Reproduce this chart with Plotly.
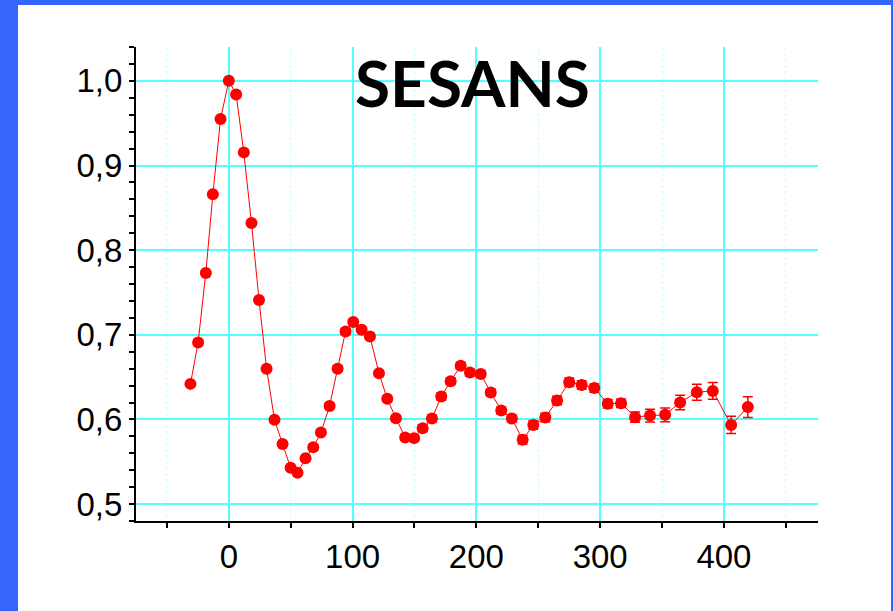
import plotly.graph_objects as go

# Spin-echo length (nm) and normalised polarisation
spin_echo = [-31.0, -24.8, -18.6, -12.9, -6.7, 0.0, 5.9, 12.1, 18.3, 24.4,
             30.5, 36.9, 43.4, 49.9, 55.5, 62.0, 68.2, 74.4, 81.4, 87.9,
             94.3, 100.5, 107.3, 114.0, 121.3, 128.0, 135.0, 142.5, 149.7, 156.6,
             164.1, 171.6, 179.2, 187.3, 194.8, 203.5, 211.6, 220.1, 228.7, 237.4,
             246.0, 255.7, 265.2, 275.0, 285.1, 295.3, 306.1, 316.9, 328.2, 340.3,
             352.5, 364.6, 378.1, 391.0, 405.8, 419.3]
polarisation = [0.642, 0.691, 0.773, 0.866, 0.955, 1.000, 0.984, 0.9155, 0.832, 0.741,
                0.660, 0.5995, 0.571, 0.543, 0.537, 0.554, 0.567, 0.5845, 0.616, 0.660,
                0.704, 0.715, 0.706, 0.698, 0.6546, 0.6243, 0.6015, 0.5786, 0.5779, 0.5897,
                0.601, 0.627, 0.6452, 0.6633, 0.6553, 0.6538, 0.6317, 0.6105, 0.601, 0.5759,
                0.5933, 0.6022, 0.6223, 0.644, 0.6408, 0.637, 0.6184, 0.6192, 0.6027, 0.6046,
                0.6054, 0.620, 0.6322, 0.6337, 0.5935, 0.6146]
errors = [0.002, 0.002, 0.002, 0.002, 0.002, 0.002, 0.002, 0.002, 0.002, 0.002,
          0.002, 0.002, 0.002, 0.002, 0.002, 0.002, 0.003, 0.003, 0.003, 0.003,
          0.003, 0.003, 0.003, 0.003, 0.003, 0.003, 0.003, 0.003, 0.003, 0.004,
          0.004, 0.004, 0.004, 0.004, 0.004, 0.004, 0.004, 0.004, 0.004, 0.005,
          0.005, 0.005, 0.005, 0.005, 0.005, 0.005, 0.005, 0.005, 0.006, 0.0075,
          0.008, 0.0087, 0.0095, 0.0098, 0.0102, 0.0122]

title_text = "SESANS"

RED = "#ff0000"
CYAN = "#55ffff"
BLUE = "#3465fd"

fig = go.Figure()
fig.add_trace(go.Scatter(
    x=spin_echo, y=polarisation,
    mode="lines+markers",
    line=dict(color=RED, width=1),
    marker=dict(color=RED, size=12, line=dict(width=0)),
    error_y=dict(type="data", array=errors, color=RED, thickness=1.5, width=5),
    showlegend=False,
))

W, H = 893, 611
ML, MR, MT, MB = 136, 75, 47, 90
pw, ph = W - ML - MR, H - MT - MB

def px_x(p):
    return (p - ML) / pw

def px_y(p):
    return (H - MB - p) / ph

# blue frame: blue page with a white panel on top of it
fig.add_shape(type="rect", xref="paper", yref="paper",
              x0=px_x(18), x1=px_x(891), y0=px_y(H + 5), y1=px_y(5),
              fillcolor="white", line=dict(width=0), layer="below")

fig.add_annotation(text=title_text, xref="paper", yref="paper",
                   x=px_x(472), y=px_y(82), xanchor="center", yanchor="middle",
                   showarrow=False,
                   font=dict(family="Lato", size=64, color="black", weight=700))

axis_font = dict(family="Liberation Sans, Arial", size=33, color="black")

fig.update_xaxes(
    range=[-75, 476], tickmode="linear", tick0=0, dtick=100,
    showgrid=True, gridcolor=CYAN, gridwidth=1.5,
    showline=True, linecolor="black", linewidth=2,
    ticks="outside", ticklen=5, tickwidth=2, tickcolor="black",
    tickfont=axis_font, zeroline=False,
    minor=dict(tick0=0, dtick=50, ticks="outside", ticklen=5, tickwidth=2,
               tickcolor="black", showgrid=True, gridcolor="#c4ffff",
               griddash="dot", gridwidth=1),
)
fig.update_yaxes(
    range=[0.48, 1.04], tickmode="linear", tick0=0.5, dtick=0.1,
    tickformat=".1f",
    showgrid=True, gridcolor=CYAN, gridwidth=1.5,
    showline=True, linecolor="black", linewidth=2,
    ticks="outside", ticklen=5, tickwidth=2, tickcolor="black",
    tickfont=axis_font, zeroline=False,
    minor=dict(tick0=0.5, dtick=0.02, ticks="outside", ticklen=5, tickwidth=2,
               tickcolor="black", showgrid=False),
)

fig.update_layout(
    width=W, height=H,
    margin=dict(l=ML, r=MR, t=MT, b=MB),
    paper_bgcolor=BLUE, plot_bgcolor="rgba(0,0,0,0)",
    separators=", ",
)

fig.write_html("out.html")
